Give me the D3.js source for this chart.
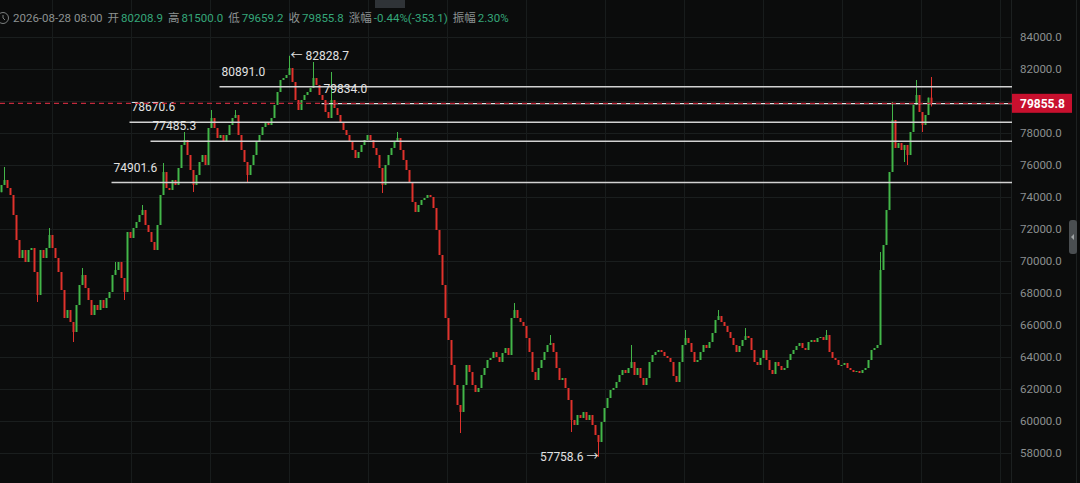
<!DOCTYPE html>
<html>
<head>
<meta charset="utf-8">
<script src="https://cdn.jsdelivr.net/npm/d3@7"></script>
<style>
  html, body { margin: 0; padding: 0; background: #0b0c0c; }
  svg { display: block; }
</style>
</head>
<body>
<svg id="chart" width="1080" height="483"></svg>
<script>
// ---- data ----------------------------------------------------------------
// Closing prices, one candle per bar; each bar opens where the previous closed.
const closes = [
  74750,75062,74562,74125,72875,71312,70187,70687,69937,70687,70812,69312,67875,70687,70187,70812,71625,70812,70187,69312,
  68187,66437,66937,66187,65562,67250,68500,69125,68312,67562,66625,67250,66937,67562,67062,67687,68062,69125,69437,69937,
  68937,68062,71812,71437,72062,72437,72875,73187,72250,71812,71187,70687,72250,74125,75562,74562,74437,75062,74750,75812,
  77250,77562,76625,75687,74750,75375,76187,76625,76000,78312,78937,78312,77687,77875,77437,77875,78500,78937,79125,77875,
  76937,76187,75375,76000,76625,77437,77875,78375,78687,78500,78937,79750,80562,81312,81437,81625,82062,81187,80062,79437,
  80062,80375,80562,80812,81437,81000,80375,80062,79312,78937,80062,79562,79125,78687,78187,77875,77437,76937,76437,76812,
  77250,77562,77875,77562,77062,76625,75812,74750,76000,76625,77062,77437,77687,76937,76312,75687,74937,73687,73062,73500,
  73812,73937,74125,74000,73312,71937,70375,68500,66437,65062,63500,62250,61000,60562,62250,63500,63062,62250,61812,62062,
  62875,63312,63812,63937,64312,64000,63687,64250,64562,64125,66437,66937,66437,66187,65937,65187,64312,63062,62562,63312,
  63812,64312,64750,64875,64312,63312,62562,62687,62062,61312,60062,59750,60375,60187,60562,60062,60375,59750,59125,58687,
  59937,60812,61437,61937,62062,62437,62875,63187,63000,63312,63687,62875,63312,62687,62250,62687,63687,64125,64312,64437,
  64312,64062,63937,63687,62812,62437,63687,64750,65187,64875,64312,63687,63812,64312,64750,64562,64937,65500,66312,66562,
  66187,65937,65562,65187,64750,64312,64687,65062,65312,65187,64437,63687,63500,63937,64437,63812,63187,62937,63687,63437,
  63187,63312,63812,64187,64437,64687,64875,64562,64437,64937,65062,64937,65187,65250,65062,65375,64312,63937,63812,63500,
  63500,63625,63312,63187,63062,63125,63000,63187,63312,63812,64437,64562,64750,69437,71000,73187,75562,78812,77062,77375,
  76937,77250,76625,78062,79750,80375,79312,78500,79125,80208.9,79855.8
];
const firstOpen = 74300;

// Bars whose wicks reach beyond their bodies: [bar index, price]
const wickHighs = [
  [1,75875],[16,72062],[27,69562],[38,69937],[47,73500],[54,76125],[61,78062],[70,79437],
  [78,79437],[96,82828.7],[104,82437],[110,81812],[132,78062],[171,67375],[183,65375],
  [210,64750],[228,65687],[239,66937],[248,65812],[275,65687],[293,70562],[297,79937],
  [305,81312],[310,81500.0]
];
const wickLows = [
  [12,67437],[24,64937],[41,67562],[64,74312],[82,74937],[127,74250],[153,59250],
  [190,59312],[199,57758.6],[301,76187],[302,76000],[307,78062],[310,79659.2]
];

// Price axis ticks
const priceTicks = [58000,60000,62000,64000,66000,68000,70000,72000,74000,76000,78000,80000,82000,84000];

// Horizontal levels drawn on the chart and the bar each one starts from
const levelValues = [80891.0, 78670.6, 77485.3, 74901.6];
const levelStarts = [73, 43, 50, 37];
const dashedLevel = 79834.0;
const dashedLevelStart = 107;

const barTime = "2026-08-28 08:00";

// ---- setup ---------------------------------------------------------------
const W = 1080, H = 483;
const plotRight = 1012;
const UP = "#43b649", DOWN = "#e0322c";
const FONT = "Roboto, 'Noto Sans', 'Noto Sans CJK SC', sans-serif";

const candles = closes.map((c, i) => {
  const o = i === 0 ? firstOpen : closes[i - 1];
  return { i, o, c, h: Math.max(o, c), l: Math.min(o, c) };
});
wickHighs.forEach(([i, v]) => { candles[i].h = v; });
wickLows.forEach(([i, v]) => { candles[i].l = v; });

const step = 3;
const x = d3.scaleBand()
  .domain(d3.range(candles.length))
  .range([0, candles.length * step])
  .paddingInner(0.34)
  .paddingOuter(0.17);
const cx = i => x(i) + x.bandwidth() / 2;

const y = d3.scaleLinear().domain([58000, 84000]).range([453, 37]);

const svg = d3.select("#chart");
svg.append("rect").attr("width", W).attr("height", H).attr("fill", "#0b0c0c");

// ---- grid ----------------------------------------------------------------
const grid = svg.append("g");
grid.selectAll("line.h").data(priceTicks).join("line")
  .attr("x1", 0).attr("x2", plotRight)
  .attr("y1", d => Math.round(y(d)) + 0.5).attr("y2", d => Math.round(y(d)) + 0.5)
  .attr("stroke", "#1a1e1e").attr("stroke-width", 1);
grid.selectAll("line.v").data(d3.range(52, plotRight, 79)).join("line")
  .attr("x1", d => d + 0.5).attr("x2", d => d + 0.5)
  .attr("y1", 0).attr("y2", H)
  .attr("stroke", "#181c1c").attr("stroke-width", 1);
grid.append("line")
  .attr("x1", plotRight - 0.5).attr("x2", plotRight - 0.5)
  .attr("y1", 0).attr("y2", H)
  .attr("stroke", "#1c2020");

// ---- candles -------------------------------------------------------------
const plot = svg.append("g");
plot.selectAll("line.wick").data(candles).join("line")
  .attr("x1", d => cx(d.i)).attr("x2", d => cx(d.i))
  .attr("y1", d => y(d.h)).attr("y2", d => y(d.l))
  .attr("stroke", d => d.c >= d.o ? UP : DOWN)
  .attr("stroke-width", 1);
plot.selectAll("rect.body").data(candles).join("rect")
  .attr("x", d => x(d.i))
  .attr("width", x.bandwidth())
  .attr("y", d => y(Math.max(d.o, d.c)))
  .attr("height", d => Math.max(1, Math.abs(y(d.o) - y(d.c))))
  .attr("fill", d => d.c >= d.o ? UP : DOWN);

// ---- level lines ---------------------------------------------------------
const levels = svg.append("g");
levelValues.forEach((v, k) => {
  const x0 = x(levelStarts[k]);
  levels.append("line")
    .attr("x1", x0).attr("x2", plotRight)
    .attr("y1", y(v)).attr("y2", y(v))
    .attr("stroke", "#d2d2d2").attr("stroke-width", 1.6);
  levels.append("text")
    .attr("x", x0 + 2).attr("y", y(v) - 11)
    .attr("fill", "#e2e2e2").attr("font-size", 12).attr("font-family", FONT)
    .text(v.toFixed(1));
});
{
  const x0 = x(dashedLevelStart);
  levels.append("line")
    .attr("x1", x0).attr("x2", plotRight)
    .attr("y1", y(dashedLevel)).attr("y2", y(dashedLevel))
    .attr("stroke", "#e6dfe0").attr("stroke-width", 1.3);
  levels.append("text")
    .attr("x", x0 + 2).attr("y", y(dashedLevel) - 11)
    .attr("fill", "#e2e2e2").attr("font-size", 12).attr("font-family", FONT)
    .text(dashedLevel.toFixed(1));
}

// ---- last price line -----------------------------------------------------
const last = candles[candles.length - 1];
svg.append("line")
  .attr("x1", 0).attr("x2", plotRight)
  .attr("y1", y(last.c)).attr("y2", y(last.c))
  .attr("stroke", "#c22a3c").attr("stroke-width", 1.2)
  .attr("stroke-dasharray", "5,4");

// ---- extreme markers -----------------------------------------------------
const hiBar = candles.reduce((a, b) => b.h > a.h ? b : a);
const loBar = candles.reduce((a, b) => b.l < a.l ? b : a);
svg.append("text")
  .attr("x", cx(hiBar.i) + 1).attr("y", y(hiBar.h) + 4)
  .attr("fill", "#e2e2e2").attr("font-size", 12).attr("font-family", FONT)
  .text("\u2190 " + hiBar.h.toFixed(1));
svg.append("text")
  .attr("x", cx(loBar.i)).attr("y", y(loBar.l) + 4)
  .attr("text-anchor", "end")
  .attr("fill", "#e2e2e2").attr("font-size", 12).attr("font-family", FONT)
  .text(loBar.l.toFixed(1) + " \u2192");

// ---- right price axis (ticks under the price tag are left out) -----------
const axisTicks = priceTicks.filter(t => Math.abs(y(t) - y(last.c)) > 12);
const axis = svg.append("g")
  .attr("transform", "translate(1020,0)")
  .call(d3.axisRight(y).tickValues(axisTicks).tickFormat(d => d.toFixed(1)).tickSize(0).tickPadding(0));
axis.select(".domain").remove();
axis.selectAll("text")
  .attr("fill", "#8b9090").attr("font-size", 11.5).attr("font-family", FONT);

svg.append("rect")
  .attr("x", plotRight).attr("y", y(last.c) - 9.5)
  .attr("width", 60).attr("height", 19)
  .attr("fill", "#c8102e");
svg.append("text")
  .attr("x", 1020).attr("y", y(last.c)).attr("dy", "0.35em")
  .attr("fill", "#ffffff").attr("font-size", 12).attr("font-weight", "bold").attr("font-family", FONT)
  .text(last.c.toFixed(1));

// right edge strip and handle
svg.append("line").attr("x1", 1076.5).attr("x2", 1076.5).attr("y1", 0).attr("y2", H)
  .attr("stroke", "#1d2121");
svg.append("rect").attr("x", 1069).attr("y", 220).attr("width", 8).attr("height", 34).attr("rx", 3)
  .attr("fill", "#4a4e51");
svg.append("path").attr("d", "M1071,237 L1074,234 L1074,240 Z").attr("fill", "#a0a4a6");

// ---- top bar -------------------------------------------------------------
svg.append("rect").attr("x", 375).attr("y", 0).attr("width", 30).attr("height", 8).attr("fill", "#2f3337");
svg.append("circle").attr("cx", 3).attr("cy", 18).attr("r", 5.5)
  .attr("fill", "none").attr("stroke", "#7b7f7f").attr("stroke-width", 1);
svg.append("path").attr("d", "M3,15 L3,18 L5,20").attr("fill", "none").attr("stroke", "#7b7f7f");

const change = last.c - last.o;
const GRAY = "#8d9292", GREEN = "#35a77a";
const header = [
  [barTime, GRAY, 5],
  ["开", GRAY, 2], [last.o.toFixed(1), GREEN, 5],
  ["高", GRAY, 2], [last.h.toFixed(1), GREEN, 5],
  ["低", GRAY, 2], [last.l.toFixed(1), GREEN, 5],
  ["收", GRAY, 2], [last.c.toFixed(1), GREEN, 5],
  ["涨幅", GRAY, 2],
  [(change / last.o * 100).toFixed(2) + "%(" + change.toFixed(1) + ")", GREEN, 5],
  ["振幅", GRAY, 2], [((last.h - last.l) / last.o * 100).toFixed(2) + "%", GREEN, 0]
];
let hx = 13;
header.forEach(([t, col, gap]) => {
  const el = svg.append("text")
    .attr("x", hx).attr("y", 22)
    .attr("fill", col).attr("font-size", 11.5).attr("font-family", FONT)
    .text(t);
  hx += el.node().getComputedTextLength() + gap;
});
</script>
</body>
</html>
